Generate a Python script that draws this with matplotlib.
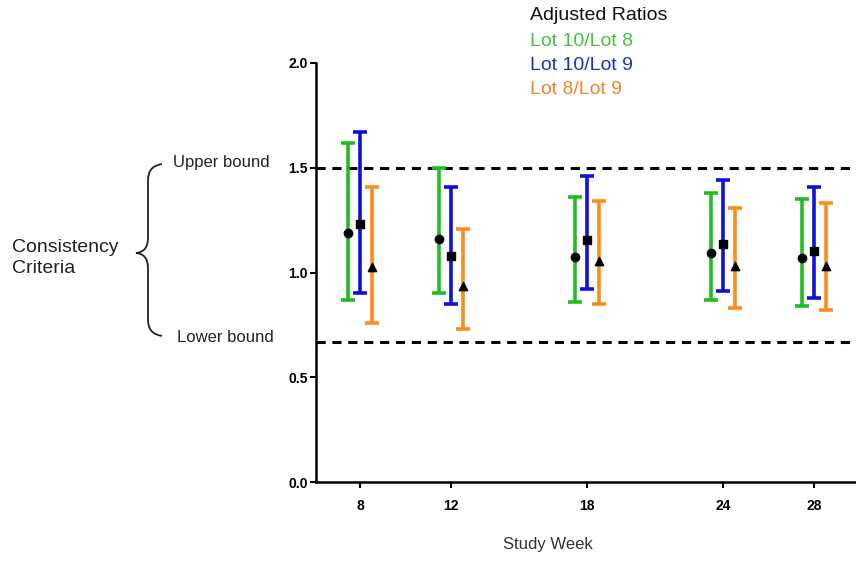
import matplotlib

matplotlib.use("Agg")
import matplotlib.pyplot as plt
import numpy as np
from matplotlib.path import Path
from matplotlib.patches import PathPatch

plt.rcParams["font.family"] = ["Liberation Sans", "DejaVu Sans"]

weeks = [8, 12, 18, 24, 28]
series_names = ["Lot 10/Lot 8", "Lot 10/Lot 9", "Lot 8/Lot 9"]

ratio_10_8 = [1.19, 1.16, 1.075, 1.095, 1.07]
low_10_8 = [0.87, 0.90, 0.86, 0.87, 0.84]
high_10_8 = [1.62, 1.50, 1.36, 1.38, 1.35]

ratio_10_9 = [1.23, 1.08, 1.155, 1.135, 1.105]
low_10_9 = [0.90, 0.85, 0.92, 0.91, 0.88]
high_10_9 = [1.67, 1.41, 1.46, 1.44, 1.41]

ratio_8_9 = [1.025, 0.935, 1.055, 1.03, 1.03]
low_8_9 = [0.76, 0.73, 0.85, 0.83, 0.82]
high_8_9 = [1.41, 1.21, 1.34, 1.31, 1.33]

upper_bound = 1.5
lower_bound = 0.67

bar_colors = ["#22bb22", "#1010dd", "#ff8c1a"]
text_colors = ["#44c044", "#2a2acc", "#f0852a"]
markers = ["o", "s", "^"]
offsets = [-0.53, 0.0, 0.53]

tick_font = dict(family=["Liberation Sans Narrow", "Liberation Sans", "DejaVu Sans"],
                 size=10, weight="bold")

fig = plt.figure(figsize=(8.56, 5.61), dpi=100)
ax = fig.add_axes([316 / 856, 79 / 561, 540 / 856, 419 / 561])

series = [
    (ratio_10_8, low_10_8, high_10_8),
    (ratio_10_9, low_10_9, high_10_9),
    (ratio_8_9, low_8_9, high_8_9),
]
x = np.array(weeks, dtype=float)
for (mid, lo, hi), color, marker, off in zip(series, bar_colors, markers, offsets):
    mid = np.array(mid)
    err = [mid - np.array(lo), np.array(hi) - mid]
    ax.errorbar(x + off, mid, yerr=err, fmt="none", ecolor=color,
                elinewidth=2.6, capsize=5, capthick=2.6, zorder=2)
    ax.scatter(x + off, mid, marker=marker, color="black", s=36, zorder=3)

ax.axhline(upper_bound, color="black", linestyle=(0, (3, 2.2)), linewidth=2.2, zorder=1)
ax.axhline(lower_bound, color="black", linestyle=(0, (3, 2.2)), linewidth=2.2, zorder=1)

ax.set_xlim(6.06, 29.85)
ax.set_ylim(0, 2.0)
ax.set_xticks(weeks)
ax.set_xticklabels([str(w) for w in weeks], fontdict=tick_font)
ax.set_yticks([0.0, 0.5, 1.0, 1.5, 2.0])
ax.set_yticklabels(["0.0", "0.5", "1.0", "1.5", "2.0"], fontdict=tick_font)
ax.tick_params(direction="out", length=4, width=1.5, pad=2)
ax.tick_params(axis="x", pad=8)
for side in ("top", "right"):
    ax.spines[side].set_visible(False)
for side in ("left", "bottom"):
    ax.spines[side].set_linewidth(1.8)

fig.text(548 / 856, 1 - 545 / 561, "Study Week", fontsize=12, color="#333333",
         ha="center", va="center")

# legend as coloured text
fig.text(530 / 856, 1 - 16 / 561, "Adjusted Ratios", fontsize=14, color="#111111", va="center")
for i, (name, tc) in enumerate(zip(series_names, text_colors)):
    fig.text(530 / 856, 1 - (42 + i * 24) / 561, name, fontsize=14, color=tc, va="center")

# consistency criteria annotation
fig.text(173 / 856, 1 - 163 / 561, "Upper bound", fontsize=12, color="#222222", va="center")
fig.text(177 / 856, 1 - 337 / 561, "Lower bound", fontsize=12, color="#222222", va="center")
fig.text(12 / 856, 1 - 258 / 561, "Consistency\nCriteria", fontsize=14, color="#222222",
         va="center", linespacing=1.25)

px = lambda a, b: (a / 856, 1 - b / 561)
verts = [px(162, 164), px(148, 166), px(148, 180),
         px(148, 238),
         px(148, 252), px(136, 253),
         px(148, 254), px(148, 268),
         px(148, 320),
         px(148, 334), px(162, 336)]
codes = [Path.MOVETO, Path.CURVE3, Path.CURVE3,
         Path.LINETO,
         Path.CURVE3, Path.CURVE3,
         Path.CURVE3, Path.CURVE3,
         Path.LINETO,
         Path.CURVE3, Path.CURVE3]
brace = PathPatch(Path(verts, codes), transform=fig.transFigure, fill=False,
                  edgecolor="#222222", linewidth=1.3)
fig.patches.append(brace)

fig.savefig("out.png", dpi=100)
plt.close(fig)
